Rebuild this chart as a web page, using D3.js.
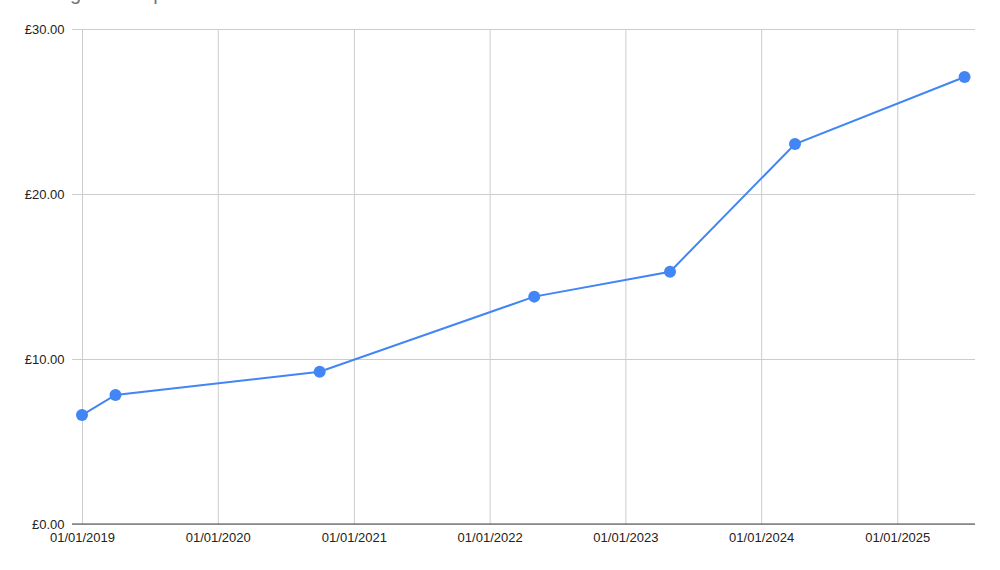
<!DOCTYPE html>
<html>
<head>
<meta charset="utf-8">
<script src="https://cdn.jsdelivr.net/npm/d3@7"></script>
<style>
  html, body { margin: 0; padding: 0; background: #fff; }
  svg { display: block; }
</style>
</head>
<body>
<svg id="chart" width="1000" height="570"></svg>
<script>
const titleText = "Average share price";
const dates = ["2019-01-01", "2019-04-01", "2020-10-01", "2022-05-01", "2023-05-01", "2024-04-01", "2025-07-01"];
const prices = [6.60, 7.82, 9.23, 13.78, 15.29, 23.03, 27.09];
const xTickDates = ["2019-01-01", "2020-01-01", "2021-01-01", "2022-01-01", "2023-01-01", "2024-01-01", "2025-01-01"];
const yTicks = [0, 10, 20, 30];
const xDomain = ["2019-01-01", "2025-07-29"];
const yDomain = [0, 30];

const parse = d3.utcParse("%Y-%m-%d");
const fmtDate = d3.utcFormat("%d/%m/%Y");
const fmtMoney = v => "£" + d3.format(".2f")(v);

const data = dates.map((d, i) => ({ date: parse(d), value: prices[i] }));

const margin = { left: 82, right: 25, top: 29, bottom: 46 };
const W = 1000, H = 570;
const FONT = "Arial, 'Liberation Sans', Helvetica, sans-serif";
const svg = d3.select("#chart");

const x = d3.scaleUtc().domain(xDomain.map(parse)).range([margin.left, W - margin.right]);
const y = d3.scaleLinear().domain(yDomain).range([H - margin.bottom, margin.top]);

// title (cut off at the top edge, as in the reference)
svg.append("text")
  .attr("x", 18).attr("y", 0)
  .attr("font-family", FONT)
  .attr("font-size", 20)
  .attr("fill", "#757575")
  .text(titleText);

// horizontal gridlines + y labels
svg.append("g")
  .attr("transform", `translate(${margin.left},0)`)
  .call(d3.axisLeft(y).tickValues(yTicks).tickSize(-(W - margin.right - margin.left)).tickFormat(fmtMoney))
  .call(g => g.select(".domain").remove())
  .call(g => g.selectAll(".tick line").attr("stroke", "#cccccc").attr("stroke-width", 1).attr("x1", -10))
  .call(g => g.selectAll(".tick text")
    .attr("x", -17.5).attr("dy", "0.35em")
    .attr("font-family", FONT)
    .attr("font-size", 13).attr("fill", "#222"));

// vertical gridlines + x labels
svg.append("g")
  .attr("transform", `translate(0,${H - margin.bottom})`)
  .call(d3.axisBottom(x).tickValues(xTickDates.map(parse)).tickSize(-(H - margin.bottom - margin.top)).tickFormat(fmtDate))
  .call(g => g.select(".domain").remove())
  .call(g => g.selectAll(".tick line").attr("stroke", "#cccccc").attr("stroke-width", 1))
  .call(g => g.selectAll(".tick text")
    .attr("y", 17.5).attr("dy", 0)
    .attr("font-family", FONT)
    .attr("font-size", 13).attr("fill", "#222"));

// baseline
svg.append("line")
  .attr("x1", margin.left - 10).attr("x2", W - margin.right)
  .attr("y1", y(0)).attr("y2", y(0))
  .attr("stroke", "#444").attr("stroke-width", 1.2);

// line
svg.append("path")
  .datum(data)
  .attr("fill", "none")
  .attr("stroke", "#4285F4")
  .attr("stroke-width", 2)
  .attr("d", d3.line().x(d => x(d.date)).y(d => y(d.value)));

// points
svg.append("g").selectAll("circle")
  .data(data)
  .join("circle")
  .attr("cx", d => x(d.date))
  .attr("cy", d => y(d.value))
  .attr("r", 6)
  .attr("fill", "#4285F4");
</script>
</body>
</html>
